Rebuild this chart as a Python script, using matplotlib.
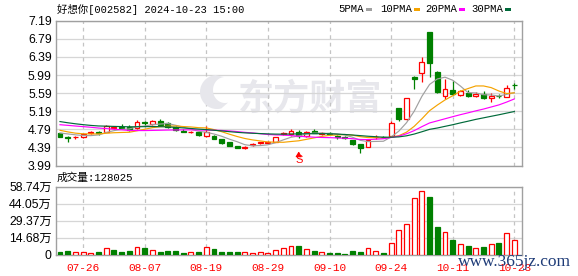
import matplotlib
matplotlib.use('Agg')
import matplotlib.pyplot as plt
from matplotlib.patches import Rectangle, Polygon
import numpy as np
import pandas as pd

# ---------------- data ----------------
title = "好想你[002582] 2024-10-23 15:00"
dates = ['07-23', '07-24', '07-25', '07-26', '07-29', '07-30', '07-31', '08-01', '08-02', '08-05',
         '08-06', '08-07', '08-08', '08-09', '08-12', '08-13', '08-14', '08-15', '08-16', '08-19',
         '08-20', '08-21', '08-22', '08-23', '08-26', '08-27', '08-28', '08-29', '08-30', '09-02',
         '09-03', '09-04', '09-05', '09-06', '09-09', '09-10', '09-11', '09-12', '09-13', '09-18',
         '09-19', '09-20', '09-23', '09-24', '09-25', '09-26', '09-27', '09-30', '10-08', '10-09',
         '10-10', '10-11', '10-14', '10-15', '10-16', '10-17', '10-18', '10-21', '10-22', '10-23']
opens = [4.70, 4.61, 4.61, 4.61, 4.70, 4.72, 4.74, 4.81, 4.83, 4.85,
         4.82, 4.95, 4.90, 4.97, 4.93, 4.85, 4.76, 4.73, 4.73, 4.65,
         4.65, 4.57, 4.51, 4.42, 4.37, 4.45, 4.49, 4.49, 4.52, 4.69,
         4.68, 4.72, 4.65, 4.76, 4.69, 4.70, 4.64, 4.61, 4.55, 4.46,
         4.40, 4.61, 4.63, 4.64, 5.25, 5.02, 5.95, 6.03, 6.93, 6.06,
         5.53, 5.65, 5.54, 5.59, 5.52, 5.56, 5.48, 5.53, 5.51, 5.77]
highs = [4.71, 4.64, 4.64, 4.70, 4.75, 4.76, 4.89, 4.86, 4.90, 4.88,
         4.99, 4.98, 5.00, 5.02, 4.95, 4.86, 4.80, 4.76, 4.75, 4.87,
         4.67, 4.58, 4.52, 4.43, 4.42, 4.48, 4.52, 4.53, 4.63, 4.74,
         4.79, 4.77, 4.76, 4.79, 4.74, 4.73, 4.66, 4.64, 4.56, 4.47,
         4.57, 4.66, 4.65, 4.97, 5.26, 5.49, 5.96, 6.38, 6.93, 6.07,
         5.90, 5.85, 5.66, 5.66, 5.62, 5.64, 5.60, 5.58, 5.78, 5.81]
lows = [4.61, 4.52, 4.57, 4.60, 4.68, 4.67, 4.73, 4.79, 4.79, 4.75,
        4.80, 4.86, 4.88, 4.88, 4.81, 4.76, 4.72, 4.70, 4.64, 4.62,
        4.57, 4.47, 4.41, 4.37, 4.35, 4.43, 4.47, 4.48, 4.50, 4.66,
        4.64, 4.60, 4.62, 4.70, 4.66, 4.66, 4.58, 4.58, 4.45, 4.27,
        4.39, 4.58, 4.60, 4.62, 4.98, 5.00, 5.68, 5.84, 5.94, 5.60,
        5.45, 5.54, 5.52, 5.51, 5.50, 5.46, 5.39, 5.49, 5.50, 5.68]
closes = [4.63, 4.60, 4.62, 4.68, 4.72, 4.71, 4.86, 4.83, 4.82, 4.77,
          4.96, 4.94, 4.97, 4.89, 4.83, 4.77, 4.73, 4.74, 4.66, 4.72,
          4.58, 4.48, 4.42, 4.38, 4.39, 4.46, 4.50, 4.51, 4.61, 4.70,
          4.75, 4.64, 4.74, 4.70, 4.71, 4.69, 4.61, 4.60, 4.46, 4.37,
          4.55, 4.63, 4.62, 4.935, 5.01, 5.48, 5.90, 6.27, 6.25, 5.61,
          5.68, 5.56, 5.63, 5.52, 5.58, 5.48, 5.53, 5.52, 5.70, 5.76]
# closes of the 29 sessions before the window (estimated from the MA lines at the left edge)
prior_closes = [5.38, 5.30, 5.26, 5.22, 5.08, 5.00, 4.98, 4.95, 4.92, 4.90,
                4.88, 4.92, 4.95, 5.00, 5.05, 5.10, 5.12, 5.08, 5.05, 5.00,
                4.95, 4.90, 4.82, 4.75, 4.72, 4.70, 4.72, 4.76, 4.73]
volumes_wan = [2.3, 2.9, 1.8, 1.8, 1.2, 2.3, 5.9, 3.8, 2.3, 2.9,
               6.5, 5.9, 3.8, 2.3, 2.9, 2.9, 1.2, 2.3, 2.3, 6.7,
               5.0, 2.3, 2.3, 2.0, 2.3, 1.5, 2.3, 1.5, 3.5, 5.3,
               7.0, 7.3, 4.4, 2.9, 2.3, 1.2, 1.2, 0.8, 2.9, 2.0,
               5.3, 2.9, 1.2, 10.0, 21.2, 26.5, 48.7, 55.0, 50.0, 24.1,
               19.5, 12.6, 8.8, 7.3, 5.3, 6.5, 8.8, 9.7, 18.6, 12.8025]
price_ticks = [3.99, 4.39, 4.79, 5.19, 5.59, 5.99, 6.39, 6.79, 7.19]
vol_ticks = [0, 14.68, 29.37, 44.05, 58.74]
date_ticks = ['07-26', '08-07', '08-19', '08-29', '09-10', '09-24', '10-11', '10-23']
ma_periods = [5, 10, 20, 30]
ma_names = ['5PMA', '10PMA', '20PMA', '30PMA']
signal_date = '09-04'

# ---------------- styles ----------------
RED = '#ff0000'
GREEN = '#008000'
ma_colors = ['#a0a0a0', '#f5a300', '#ff00ff', '#006a3a']
GRID = '#d6d6d6'
VGRID = '#c4c4c4'
SPINE = '#a0a0a0'
WM = '#e7e7ec'
MONO_CJK = ['Liberation Mono', 'Noto Sans CJK SC']
SANS_CJK = ['Liberation Sans', 'Noto Sans CJK SC']

W, H = 578, 276
fig = plt.figure(figsize=(W / 100, H / 100), dpi=100)
fig.patch.set_facecolor('white')

def fx(px):
    return px / W

def fy(py):
    return 1 - py / H

ax = fig.add_axes([fx(56), fy(165.5), fx(522) - fx(56), fy(20.7) - fy(165.5)])
axv = fig.add_axes([fx(56), fy(254.5), fx(522) - fx(56), fy(186.7) - fy(254.5)])

n = len(dates)
x = np.arange(n)
all_closes = pd.Series(prior_closes + closes)
prev_close = [prior_closes[-1]] + closes[:-1]

for a in (ax, axv):
    a.set_xlim(-0.52, 60.0)
    for s in a.spines.values():
        s.set_color(SPINE)
        s.set_linewidth(1.0)
    a.tick_params(length=0)
    tick_pos = [dates.index(d) for d in date_ticks]
    for tp in tick_pos:
        a.axvline(tp, color=VGRID, lw=0.9, ls=(0, (3, 3)), zorder=0.5)

# ---------------- price panel ----------------
ax.set_ylim(3.99, 7.19)
ax.set_yticks(price_ticks)
ax.set_yticklabels([f'{t:.2f}' for t in price_ticks], family='Liberation Sans', fontsize=8.8)
ax.tick_params(axis='y', pad=3)
ax.set_xticks([])
for t in price_ticks:
    ax.axhline(t, color=GRID, lw=0.9, zorder=0.4)

# watermark (logo + brand)
ax.text(0.545, 0.46, '东方财富', transform=ax.transAxes, ha='center', va='center',
        family='Noto Sans CJK SC', fontweight='bold', fontsize=26, color=WM, zorder=0.3)
th1 = np.radians(np.linspace(95, 285, 40))
th2 = th1[::-1]
outer = np.column_stack([217 + 17 * np.cos(th1), 92 - 17 * np.sin(th1)])
inner = np.column_stack([225 + 12 * np.cos(th2), 90 - 13 * np.sin(th2)])
pts = np.vstack([outer, inner])
fig.patches.append(Polygon(np.column_stack([fx(pts[:, 0]), fy(pts[:, 1])]), closed=True,
                           transform=fig.transFigure, facecolor=WM, edgecolor='none', zorder=0.3))

bw = 0.64
for i in range(n):
    o, h, l, c = opens[i], highs[i], lows[i], closes[i]
    up = c > o or (c == o and c >= prev_close[i])
    col = RED if up else GREEN
    ax.vlines(i, l, h, color=col, lw=0.9, zorder=3)
    bottom = min(o, c)
    height = max(abs(c - o), 0.0005)
    ax.add_patch(Rectangle((i - bw / 2, bottom), bw, height,
                           facecolor='white' if up else col, edgecolor=col,
                           lw=0.9, zorder=4))

for p, colr in zip(ma_periods, ma_colors):
    ma = all_closes.rolling(p).mean().values[len(prior_closes):]
    ax.plot(x, ma, color=colr, lw=0.85, zorder=5)

# buy/sell signal marker
si = dates.index(signal_date)
ax.annotate('', xy=(si, 4.30), xytext=(si, 4.19),
            arrowprops=dict(arrowstyle='-|>,head_width=0.18,head_length=0.3', color=RED, lw=0.8),
            zorder=6)
ax.text(si, 4.105, 'S', color=RED, ha='center', va='center', fontsize=8,
        family='Liberation Sans', zorder=6)

# ---------------- volume panel ----------------
axv.set_ylim(0, 58.74)
axv.set_yticks(vol_ticks)
axv.set_yticklabels(['0'] + [f'{t:.2f}万' for t in vol_ticks[1:]], family=SANS_CJK, fontsize=8.8)
axv.tick_params(axis='y', pad=3)
for t in vol_ticks:
    axv.axhline(t, color=GRID, lw=0.9, zorder=0.4)
for i in range(n):
    up = closes[i] >= prev_close[i]
    col = RED if up else GREEN
    axv.add_patch(Rectangle((i - bw / 2, 0), bw, volumes_wan[i],
                            facecolor='white' if up else col, edgecolor=col,
                            lw=0.9, zorder=4))
axv.set_xticks([dates.index(d) for d in date_ticks])
axv.set_xticklabels(date_ticks, color=RED, family='Liberation Mono', fontsize=8)
axv.tick_params(axis='x', pad=6)

# ---------------- header texts ----------------
fig.text(fx(57), fy(9), title, family=MONO_CJK, fontsize=7.5, va='center', ha='left')
fig.text(fx(57), fy(177.5), f'成交量:{int(round(volumes_wan[-1] * 10000))}',
         family=MONO_CJK, fontsize=7.7, va='center', ha='left')

leg_x = [338, 380, 425, 471]
for name, colr, lx in zip(ma_names, ma_colors, leg_x):
    fig.text(fx(lx), fy(9), name, family='Liberation Mono', fontsize=7.7,
             va='center', ha='left')
    sw = 6.4 * len(name) + 2
    fig.patches.append(Rectangle((fx(lx + sw), fy(10.6)), fx(6), fy(8) - fy(10.6),
                                 transform=fig.transFigure, facecolor=colr,
                                 edgecolor='none'))

# site watermark
fig.text(fx(571), fy(262), 'www.365jz.com', family='Liberation Serif', fontsize=12.5,
         color='#1f3c78', ha='right', va='center', zorder=10)

fig.savefig('out.png', dpi=100, facecolor='white')
